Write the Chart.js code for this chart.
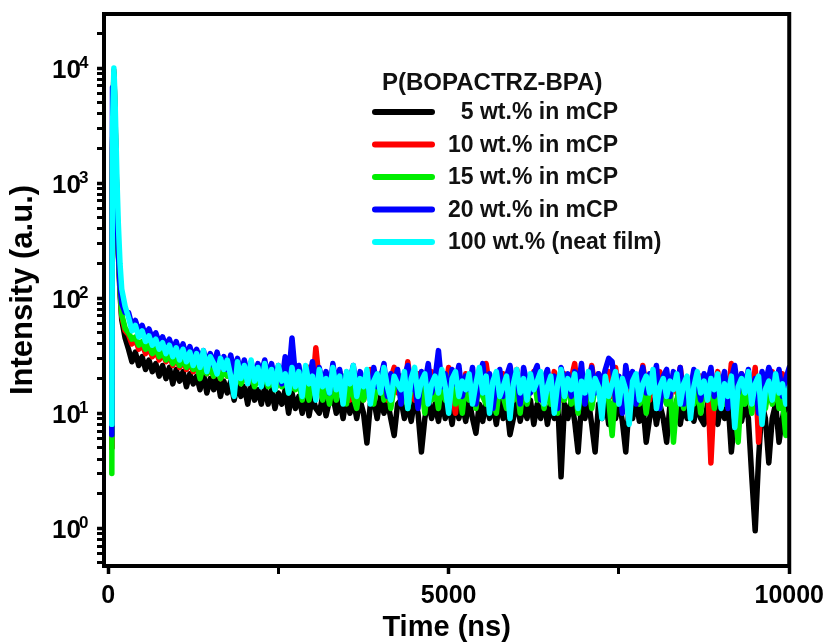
<!DOCTYPE html>
<html>
<head>
<meta charset="utf-8">
<script src="https://cdn.jsdelivr.net/npm/chart.js@4.4.1/dist/chart.umd.min.js"></script>
<style>
  html, body { margin: 0; padding: 0; background: #fff; }
</style>
</head>
<body>
<canvas id="decay" width="831" height="644"></canvas>
<script>
// time axis (ns): fast rise/decay part, then every 50 ns up to 10000
const timesEarly = [55, 65, 85, 100, 115, 130, 150, 175, 200, 250];
const timesTail = [];
for (let t = 300; t <= 10000; t += 50) timesTail.push(t);
const times = timesEarly.concat(timesTail);

// intensities (a.u.), rows of 500 ns
const black5 = [5, 2000, 9000, 4000, 1500, 600, 250, 110, 65, 45,
  36, 28, 34, 26, 31, 24, 29, 23, 27, 21,
  26, 20, 25, 18, 24, 19, 23, 17, 22, 18,
  21, 16, 22, 15, 20, 16, 21, 14, 19, 15,
  19, 13, 18, 14, 17, 12, 18, 13, 16, 12,
  17, 12, 16, 11, 15, 12, 16, 10, 15, 11,
  14, 10, 15, 9.5, 14, 11, 10, 14, 9.5, 13,
  14, 10, 13, 9, 14, 10, 13, 9, 13, 10,
  5.5, 12, 13, 9, 14, 10, 13, 9, 6.4, 12,
  13, 9, 12, 8.5, 13, 10, 4.6, 9, 13, 9,
  12, 8.5, 13, 9, 12, 8, 13, 9, 12, 8.5,
  13, 9, 6.7, 12, 8.5, 13, 9, 12, 8, 13,
  9, 12, 6.5, 9, 13, 8.5, 12, 9, 13, 8,
  12, 9, 13, 8, 12, 9, 13, 2.8, 12, 9,
  13, 8.5, 4.6, 12, 9, 13, 8, 4.6, 12, 9,
  13, 8, 12, 9, 13, 8.5, 4.6, 12, 9, 13,
  8.5, 12, 5.6, 9, 13, 8, 12, 9, 5.6, 12,
  9, 13, 8, 12, 9, 13, 8.5, 12, 9, 8,
  12, 9, 13, 8, 12, 9, 13, 4.6, 9, 12,
  8.5, 12, 9, 2.8, 0.95, 4, 12, 9, 3.7, 9,
  12, 5.6, 9, 13, 8];

const red10 = [5, 2000, 9500, 4500, 1700, 650, 270, 120, 70, 52,
  48, 40, 44, 36, 40, 33, 37, 31, 35, 29,
  33, 28, 32, 26, 31, 25, 29, 24, 28, 23,
  27, 23, 26, 22, 25, 21, 24, 20, 25, 21,
  23, 20, 24, 19, 22, 18, 23, 19, 21, 18,
  22, 18, 21, 17, 23, 18, 20, 17, 22, 18,
  22, 15, 21, 25, 16, 37, 19, 14, 22, 16,
  21, 14, 23, 17, 20, 13, 22, 16, 21, 13,
  20, 24, 14, 21, 15, 22, 13, 20, 25, 15,
  21, 14, 28, 17, 13, 22, 15, 20, 14, 23,
  18, 13, 21, 15, 25, 14, 10, 20, 15, 22,
  14, 20, 13, 23, 15, 27, 17, 13, 21, 15,
  22, 14, 20, 13, 24, 15, 21, 14, 18, 23,
  15, 21, 13, 20, 14, 23, 17, 13, 22, 15,
  20, 27, 15, 13, 21, 14, 26, 17, 22, 14,
  18, 23, 14, 25, 15, 20, 13, 22, 15, 21,
  14, 26, 17, 13, 21, 15, 23, 14, 20, 13,
  22, 15, 25, 14, 20, 13, 23, 17, 21, 14,
  20, 3.7, 15, 23, 14, 21, 13, 27, 17, 15,
  22, 14, 20, 13, 25, 5.6, 15, 21, 14, 23,
  18, 14, 22, 15, 20];

const green15 = [3, 1500, 9000, 4200, 1600, 620, 260, 120, 72, 55,
  50, 44, 46, 39, 42, 36, 39, 33, 37, 31,
  34, 29, 33, 27, 31, 26, 29, 25, 28, 24,
  27, 20, 26, 22, 25, 21, 24, 20, 23, 21,
  22, 19, 23, 18, 21, 19, 22, 17, 20, 18,
  21, 17, 20, 16, 19, 17, 20, 15, 19, 16,
  19, 13, 18, 13, 19, 14, 20, 13, 18, 12,
  19, 13, 18, 21, 12, 19, 14, 11, 18, 13,
  17, 20, 12, 18, 22, 13, 19, 11, 17, 20,
  13, 18, 11, 17, 21, 12, 18, 10, 19, 13,
  17, 11, 19, 13, 18, 23, 12, 17, 10, 19,
  13, 18, 11, 20, 14, 12, 19, 13, 10, 18,
  14, 11, 20, 13, 18, 10, 19, 12, 17, 21,
  13, 18, 11, 17, 12, 19, 10, 18, 13, 20,
  12, 17, 10, 19, 13, 18, 11, 17, 20, 12,
  18, 13, 6.4, 17, 12, 19, 13, 11, 18, 14,
  12, 18, 10, 17, 20, 13, 11, 18, 12, 17,
  5.6, 13, 18, 11, 19, 14, 12, 18, 10, 17,
  13, 18, 11, 17, 20, 12, 18, 13, 11, 5.6,
  17, 12, 19, 10, 18, 13, 20, 11, 17, 12,
  18, 11, 13, 6.4, 10];

const blue20 = [6.5, 6800, 7000, 3500, 1400, 600, 260, 130, 90, 75,
  75, 58, 64, 52, 58, 47, 54, 44, 50, 41,
  46, 38, 44, 35, 42, 33, 40, 31, 38, 30,
  36, 29, 35, 27, 33, 26, 34, 25, 31, 24,
  32, 23, 30, 22, 29, 21, 28, 20, 27, 22,
  29, 20, 27, 19, 26, 18, 31, 20, 45, 21,
  26, 17, 24, 19, 28, 16, 25, 18, 23, 15,
  27, 17, 24, 14, 22, 19, 26, 15, 23, 18,
  21, 13, 25, 17, 20, 27, 14, 22, 18, 24,
  12, 21, 26, 16, 19, 11, 23, 18, 27, 15,
  20, 35, 17, 22, 13, 24, 18, 26, 14, 21,
  16, 25, 12, 20, 27, 15, 22, 11, 19, 24,
  14, 21, 26, 17, 23, 12, 25, 18, 15, 22,
  26, 13, 20, 24, 16, 21, 11, 25, 18, 22,
  14, 23, 17, 27, 12, 20, 25, 15, 22, 18,
  24, 30, 28, 13, 21, 10, 26, 17, 23, 12,
  20, 25, 15, 22, 18, 26, 11, 21, 24, 14,
  23, 17, 25, 12, 20, 16, 24, 19, 13, 22,
  18, 25, 14, 21, 17, 23, 11, 20, 26, 15,
  22, 17, 24, 13, 20, 10, 23, 18, 25, 21,
  16, 24, 14, 20, 25];

const cyanNeat = [8, 3000, 10000, 6000, 2600, 1100, 450, 200, 120, 85,
  68, 52, 58, 46, 52, 42, 47, 39, 44, 36,
  41, 33, 39, 31, 37, 29, 36, 28, 34, 26,
  33, 25, 35, 23, 31, 27, 22, 30, 24, 29,
  21, 14, 28, 20, 26, 18, 29, 19, 25, 17,
  27, 18, 24, 16, 26, 19, 22, 15, 25, 17,
  23, 14, 26, 18, 21, 13, 24, 17, 20, 15,
  25, 16, 21, 12, 23, 18, 26, 14, 20, 17,
  24, 12, 19, 22, 15, 25, 17, 13, 21, 18,
  16, 23, 11, 20, 25, 14, 19, 22, 12, 18,
  21, 15, 24, 17, 10, 20, 23, 14, 19, 16,
  22, 12, 18, 25, 15, 21, 10, 19, 23, 14,
  17, 21, 9, 18, 24, 15, 20, 13, 22, 16,
  19, 23, 12, 17, 21, 10, 18, 24, 14, 20,
  16, 22, 11, 19, 15, 23, 13, 20, 17, 9,
  21, 14, 18, 23, 12, 20, 16, 8, 19, 22,
  13, 18, 21, 15, 24, 11, 17, 20, 14, 19,
  16, 22, 12, 18, 21, 9, 17, 23, 15, 19,
  13, 20, 16, 22, 11, 18, 14, 21, 7.5, 17,
  20, 15, 23, 12, 18, 21, 8, 16, 19, 13,
  22, 15, 18, 12, 17];

const seriesNames = ['  5 wt.% in mCP', '10 wt.% in mCP', '15 wt.% in mCP', '20 wt.% in mCP', '100 wt.% (neat film)'];
const seriesColors = ['#000000', '#ff0000', '#00ee00', '#0000ff', '#00ffff'];
const legendTitle = 'P(BOPACTRZ-BPA)';

const xTickValues = [0, 2500, 5000, 7500, 10000];
const xLabelValues = [0, 5000, 10000];
const yDecades = [-1, 0, 1, 2, 3, 4];
const yLabelExps = [0, 1, 2, 3, 4];
const yMin = 0.47, yMax = 29500;

const FONT = "'Liberation Sans', Arial, sans-serif";

function toPoints(vals) {
    return times.map((t, i) => ({x: t, y: vals[i]}));
}

const allSeries = [black5, red10, green15, blue20, cyanNeat];
const datasets = allSeries.map((vals, i) => ({
    label: seriesNames[i],
    data: toPoints(vals),
    borderColor: seriesColors[i],
    backgroundColor: seriesColors[i],
    borderWidth: 5.5,
    pointRadius: 0,
    tension: 0,
    borderCapStyle: 'round',
    borderJoinStyle: 'round',
    order: allSeries.length - i   // cyan ends up on top
}));

const frame = {
    id: 'frame',
    afterDatasetsDraw(chart) {
        const {left, right, top, bottom} = chart.chartArea;
        const ctx = chart.ctx;
        ctx.save();
        ctx.strokeStyle = '#000';
        ctx.lineWidth = 4;
        ctx.beginPath();
        ctx.moveTo(left - 2, top);
        ctx.lineTo(right, top);
        ctx.lineTo(right, bottom + 2);
        ctx.stroke();
        ctx.restore();
    }
};

// "10" with a raised exponent, placed on the log scale's own pixels
const powerLabels = {
    id: 'powerLabels',
    afterDraw(chart) {
        const y = chart.scales.y;
        const ctx = chart.ctx;
        ctx.save();
        ctx.fillStyle = '#000';
        ctx.textBaseline = 'alphabetic';
        yLabelExps.forEach(e => {
            const py = y.getPixelForValue(Math.pow(10, e));
            ctx.font = 'bold 26px ' + FONT;
            ctx.textAlign = 'right';
            ctx.fillText('10', 81, py + 10);
            ctx.font = 'bold 17px ' + FONT;
            ctx.textAlign = 'left';
            ctx.fillText(String(e), 79, py);
        });
        ctx.restore();
    }
};

const insideLegend = {
    id: 'insideLegend',
    afterDraw(chart) {
        const ctx = chart.ctx;
        ctx.save();
        ctx.textBaseline = 'middle';
        ctx.fillStyle = '#111';
        ctx.font = 'bold 24px ' + FONT;
        ctx.fillText(legendTitle, 382, 83);
        ctx.font = 'bold 23px ' + FONT;
        chart.data.datasets.forEach((ds, i) => {
            const y = 112 + i * 32.5;
            ctx.strokeStyle = ds.borderColor;
            ctx.lineWidth = 6;
            ctx.lineCap = 'round';
            ctx.beginPath();
            ctx.moveTo(375, y);
            ctx.lineTo(432, y);
            ctx.stroke();
            ctx.fillText(ds.label, 448, y + 1);
        });
        ctx.restore();
    }
};

new Chart(document.getElementById('decay'), {
    type: 'line',
    data: { datasets: datasets },
    options: {
        responsive: false,
        animation: false,
        devicePixelRatio: 1,
        layout: { padding: { left: 4, right: 41, top: 14, bottom: 0 } },
        plugins: {
            legend: { display: false },
            tooltip: { enabled: false }
        },
        scales: {
            x: {
                type: 'linear',
                min: -60,
                max: 10000,
                afterBuildTicks: (scale) => {
                    scale.ticks = xTickValues.map(v => ({value: v, major: xLabelValues.includes(v)}));
                },
                afterFit: (scale) => { scale.height = 78; },
                ticks: {
                    autoSkip: false,
                    maxRotation: 0,
                    padding: 7,
                    color: '#000',
                    font: { family: FONT, size: 25, weight: 'bold' },
                    callback: (v) => xLabelValues.includes(v) ? String(v) : ''
                },
                grid: {
                    drawOnChartArea: false,
                    drawTicks: true,
                    tickLength: 8,
                    tickColor: '#000',
                    tickWidth: (ctx) => ctx.tick && ctx.tick.major ? 3.5 : 3
                },
                border: { display: true, color: '#000', width: 4 },
                title: {
                    display: true,
                    text: 'Time (ns)',
                    color: '#000',
                    font: { family: FONT, size: 29, weight: 'bold', lineHeight: 1 },
                    padding: { top: 0, bottom: 2 }
                }
            },
            y: {
                type: 'logarithmic',
                min: yMin,
                max: yMax,
                afterBuildTicks: (scale) => {
                    const ticks = [];
                    yDecades.forEach(e => {
                        for (let m = 1; m <= 9; m++) {
                            const v = m * Math.pow(10, e);
                            if (v > yMin && v < yMax) ticks.push({value: v, major: m === 1});
                        }
                    });
                    scale.ticks = ticks;
                },
                afterFit: (scale) => {
                    scale.width = 100;
                    scale.paddingTop = 0;
                    scale.paddingBottom = 0;
                },
                ticks: {
                    autoSkip: false,
                    callback: () => ''
                },
                grid: {
                    drawOnChartArea: false,
                    drawTicks: true,
                    tickLength: 7,
                    tickColor: '#000',
                    tickWidth: (ctx) => ctx.tick && ctx.tick.major ? 3.5 : 3
                },
                border: { display: true, color: '#000', width: 4 },
                title: {
                    display: true,
                    text: 'Intensity (a.u.)',
                    color: '#000',
                    font: { family: FONT, size: 31, weight: 'bold', lineHeight: 1 },
                    padding: { top: 4, bottom: 0 }
                }
            }
        }
    },
    plugins: [frame, powerLabels, insideLegend]
});
</script>
</body>
</html>
